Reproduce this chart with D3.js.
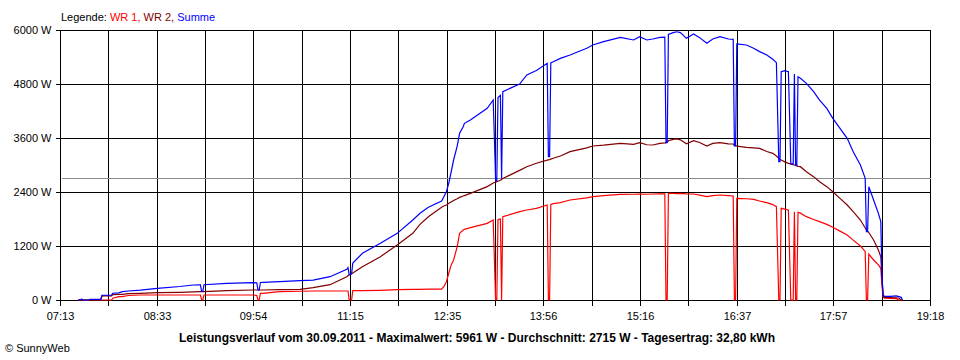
<!DOCTYPE html>
<html><head><meta charset="utf-8">
<script src="https://cdn.jsdelivr.net/npm/d3@7"></script>
<style>
body{margin:0;background:#fff}
svg{display:block}
text{font-family:"Liberation Sans",Arial,sans-serif}
</style>
</head><body><svg id="c" width="960" height="360"></svg>
<script>
// ---- data ----
const times = ["07:28","07:30","07:31","07:32","07:37","07:38","07:47","07:48","07:56","07:57",
"08:02","08:05","08:10","08:20","08:34","08:53","09:04","09:10","09:11","09:12",
"09:13","09:32","09:54","09:57","09:58","09:59","10:00","10:02","10:16","10:33",
"10:44","10:58","11:12","11:13","11:14","11:16","11:17","11:25","11:40","11:54",
"12:07","12:13","12:20","12:31","12:33","12:35","12:37","12:39","12:41","12:44",
"12:46","12:49","12:50","12:55","13:09","13:14","13:15","13:16","13:17","13:18",
"13:20","13:21","13:22","13:36","13:42","13:50","13:59","14:00","14:01","14:02",
"14:04","14:10","14:18","14:32","14:37","14:46","15:00","15:11","15:16","15:22",
"15:27","15:33","15:37","15:38","15:39","15:40","15:44","15:47","15:50","15:55",
"16:01","16:06","16:12","16:17","16:23","16:30","16:34","16:35","16:36","16:37",
"16:45","16:51","16:56","17:02","17:07","17:10","17:12","17:13","17:14","17:17",
"17:20","17:21","17:22","17:24","17:25","17:26","17:27","17:28","17:30","17:35",
"17:41","17:46","17:52","17:57","18:03","18:09","18:14","18:20","18:24","18:25",
"18:26","18:27","18:31","18:35","18:37","18:38","18:39","18:40","18:45","18:50",
"18:52","18:54","18:55"];
const wr1 = [0,0,0,0,0,0,0,0,0,40,
74,74,100,111,111,111,111,111,0,0,
111,111,111,100,0,0,148,148,185,195,
200,200,200,200,0,0,207,207,215,230,
237,237,240,240,300,407,600,780,889,1185,
1481,1555,1570,1607,1703,1778,900,0,0,1790,
1800,0,1852,1963,2000,2037,2111,0,0,2120,
2140,2163,2222,2270,2296,2320,2348,2350,2355,2350,
2355,2360,2360,0,0,2370,2370,2365,2370,2360,
2355,2330,2296,2320,2333,2320,2311,0,0,2260,
2250,2237,2200,2163,2120,2074,0,0,2037,2020,
2000,1000,0,0,1963,0,0,1950,1930,1852,
1790,1741,1680,1615,1530,1444,1330,1200,1080,0,
0,1020,889,780,704,300,60,40,35,30,
0,0,0];
const wr2 = [0,0,10,0,0,10,10,90,90,120,
126,126,140,148,163,170,180,185,185,185,
185,207,222,222,222,222,222,222,230,237,
275,340,518,540,560,580,600,740,963,1222,
1481,1680,1850,2060,2090,2111,2150,2180,2210,2250,
2280,2310,2320,2370,2520,2600,2610,2620,2630,2640,
2660,2680,2700,2880,2960,3040,3110,3115,3120,3130,
3150,3200,3296,3380,3422,3440,3481,3460,3496,3450,
3444,3480,3490,3496,3500,3540,3570,3578,3560,3470,
3541,3500,3422,3480,3496,3470,3467,3440,3430,3420,
3393,3380,3370,3300,3259,3200,3150,3120,3111,3070,
3037,3030,3020,3010,3000,2990,2980,2970,2963,2852,
2741,2630,2519,2407,2259,2111,1963,1778,1600,1556,
1530,1500,1333,1111,960,450,90,60,55,50,
45,0,0];
const summe = [0,0,20,0,0,15,15,105,110,150,
160,185,200,220,260,300,333,335,190,190,
340,370,385,380,222,222,390,393,407,430,
440,518,681,720,560,580,820,1037,1259,1481,
1778,1926,2060,2200,2300,2407,2600,2850,3111,3420,
3704,3850,3926,4000,4259,4444,3600,2650,2650,4500,
4550,2700,4630,4800,5000,5100,5259,3185,3185,5270,
5296,5370,5444,5593,5667,5741,5837,5778,5852,5778,
5800,5837,5840,3496,3500,5900,5941,5961,5941,5815,
5911,5830,5704,5800,5852,5800,5793,3422,3422,5689,
5667,5593,5519,5444,5348,5274,3074,3074,5074,5096,
5074,4070,3030,3020,5022,3000,2990,4960,4926,4815,
4630,4444,4259,4037,3815,3593,3296,3000,2704,1519,
1519,2519,2222,1926,1741,518,111,80,80,90,
75,60,0];
const yTicks = [0,1200,2400,3600,4800,6000];
const xTickLabels = ["07:13","08:33","09:54","11:15","12:35","13:56","15:16","16:37","17:57","19:18"];
const timeStart = "07:13", timeEnd = "19:18";
const average = 2715;
const legendLabels = ["WR 1","WR 2","Summe"];
const titleText = "Leistungsverlauf vom 30.09.2011 - Maximalwert: 5961 W - Durchschnitt: 2715 W - Tagesertrag: 32,80 kWh";
const copyright = "\u00A9 SunnyWeb";

// ---- drawing ----
const toMin = s => { const [h,m] = s.split(":").map(Number); return h*60+m; };
const colors = ["#ff0000","#800000","#0000ff"];
const svg = d3.select("#c");
const L=60, R=930, T=30, B=300;
const t0 = toMin(timeStart), t1 = toMin(timeEnd);
const x = d3.scaleLinear().domain([t0,t1]).range([L,R]);
const y = d3.scaleLinear().domain([0,6000]).range([B,T]);
const nDiv = (xTickLabels.length-1)*2;
const gridTimes = d3.range(nDiv+1).map(i => t0 + i*(t1-t0)/nDiv);
const px = v => Math.round(v)+0.5;

const g = svg.append("g");
// gridlines
g.selectAll("line.v").data(gridTimes).join("line")
  .attr("x1",d=>px(x(d))).attr("x2",d=>px(x(d))).attr("y1",px(T)).attr("y2",px(B))
  .attr("stroke","#000").attr("shape-rendering","crispEdges");
g.selectAll("line.h").data(yTicks).join("line")
  .attr("x1",px(L)).attr("x2",px(R)).attr("y1",d=>px(y(d))).attr("y2",d=>px(y(d)))
  .attr("stroke","#000").attr("shape-rendering","crispEdges");
// average line
g.append("line").attr("x1",px(L)+1).attr("x2",px(R)).attr("y1",px(y(average))).attr("y2",px(y(average)))
  .attr("stroke","#8c8c8c").attr("shape-rendering","crispEdges");

// axes
const xAxis = d3.axisBottom(x).tickValues(gridTimes).tickSize(5).tickPadding(7)
  .tickFormat((d,i)=> i%2===0 ? xTickLabels[i/2] : "");
const ax = svg.append("g").attr("transform",`translate(0.5,${px(B)})`).call(xAxis);
ax.select(".domain").remove();
ax.selectAll(".tick line").attr("shape-rendering","crispEdges").attr("stroke","#000");
ax.selectAll("text").attr("font-size",11).attr("fill","#000").attr("font-family","Liberation Sans, Arial, sans-serif");
ax.selectAll(".tick").attr("transform",d=>`translate(${Math.round(x(d))},0)`);

const yAxis = d3.axisLeft(y).tickValues(yTicks).tickSize(5).tickPadding(4).tickFormat(d=>d+" W");
const ay = svg.append("g").attr("transform",`translate(${px(L)},0.5)`).call(yAxis);
ay.select(".domain").remove();
ay.selectAll(".tick line").attr("shape-rendering","crispEdges").attr("stroke","#000");
ay.selectAll("text").attr("font-size",11).attr("fill","#000").attr("font-family","Liberation Sans, Arial, sans-serif");
ay.selectAll(".tick").attr("transform",d=>`translate(0,${Math.round(y(d))})`);

// series
const series = [wr1, wr2, summe];
const line = d3.line().x(d=>x(d.t)).y(d=>y(d.v));
series.forEach((vals,k)=>{
  const pts = times.map((t,i)=>({t:toMin(t), v:vals[i]}));
  svg.append("path").datum(pts).attr("d",line)
    .attr("fill","none").attr("stroke",colors[k]).attr("stroke-width",1.2)
    .attr("stroke-linejoin","miter");
});

// legend
const lg = svg.append("text").attr("x",61).attr("y",21).attr("font-size",11);
lg.append("tspan").attr("fill","#000").text("Legende: ");
legendLabels.forEach((l,i)=>{
  lg.append("tspan").attr("fill",colors[i]).text(l + (i<legendLabels.length-1 ? ", " : ""));
});

// title
svg.append("text").attr("x",477).attr("y",342).attr("text-anchor","middle")
  .attr("font-size",12).attr("font-weight","bold").attr("fill","#000").text(titleText);
svg.append("text").attr("x",5).attr("y",352).attr("font-size",11).attr("fill","#000").text(copyright);
</script>
</body></html>
